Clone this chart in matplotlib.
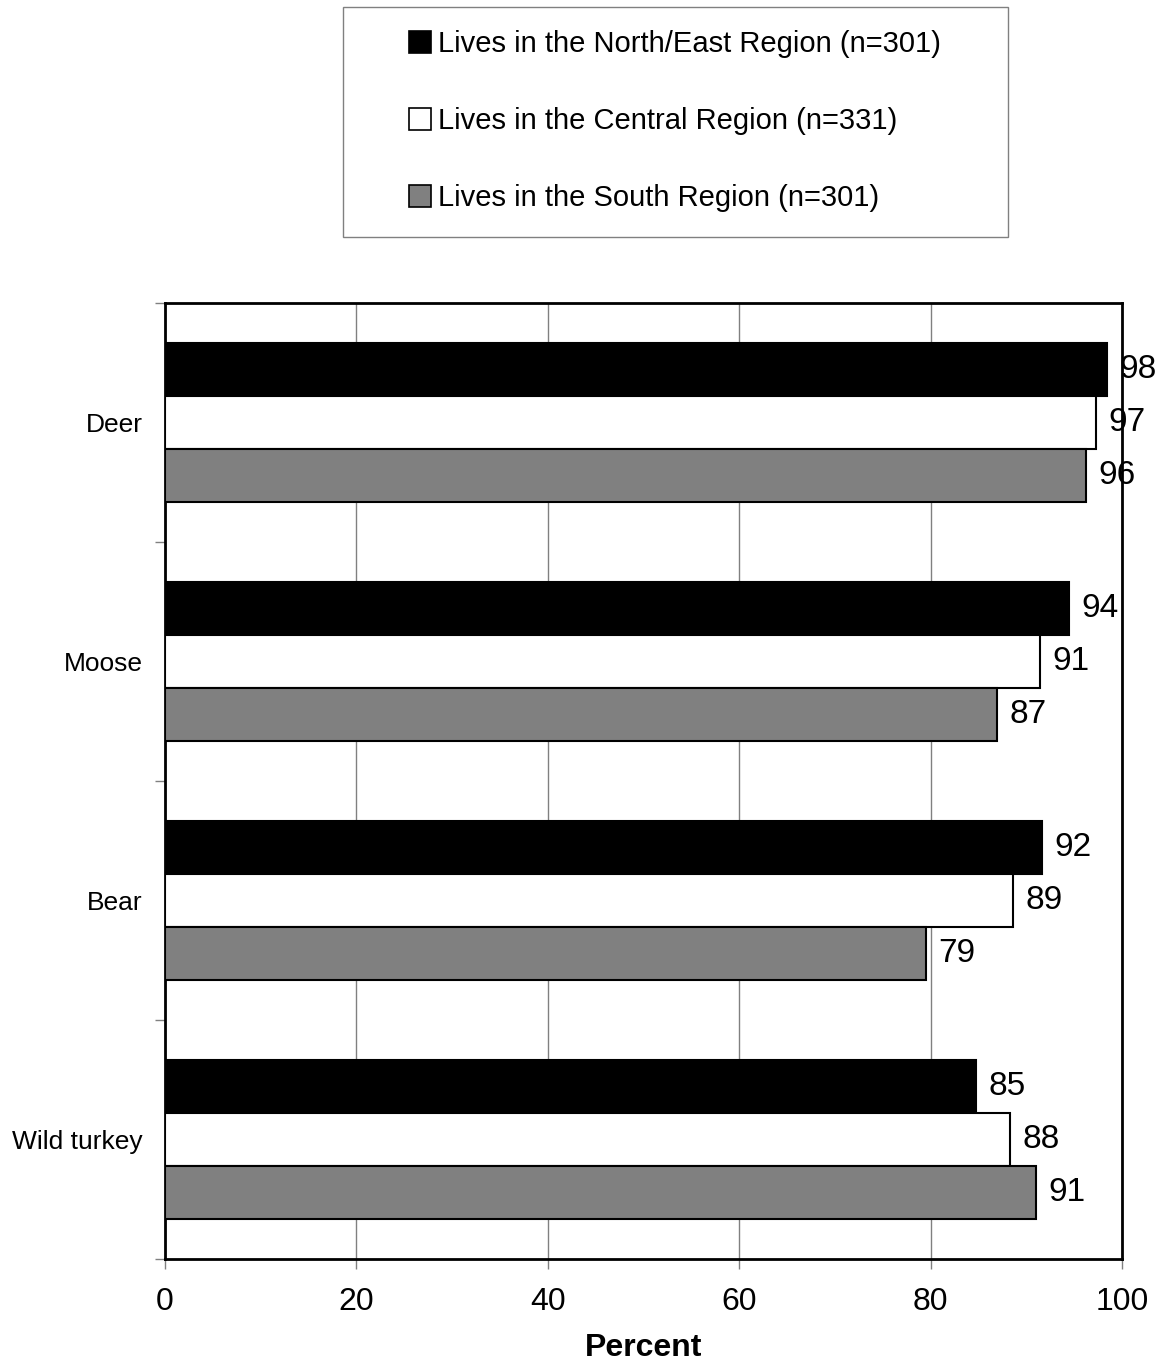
import numpy as np
import matplotlib
matplotlib.use('Agg')
import matplotlib.pyplot as plt
from matplotlib.patches import Patch, Rectangle

plt.rcParams['font.family'] = ['Liberation Sans', 'DejaVu Sans']

# Datos
especies = ['Deer', 'Moose', 'Bear', 'Wild turkey']
series = ['Lives in the North/East Region (n=301)',
          'Lives in the Central Region (n=331)',
          'Lives in the South Region (n=301)']
norte_este = [98.4, 94.5, 91.6, 84.7]
central = [97.3, 91.4, 88.6, 88.3]
sur = [96.2, 86.9, 79.5, 91.0]
etiquetas_norte = [98, 94, 92, 85]
etiquetas_central = [97, 91, 89, 88]
etiquetas_sur = [96, 87, 79, 91]

colores = ['black', 'white', '#808080']
valores = [norte_este, central, sur]
etiquetas = [etiquetas_norte, etiquetas_central, etiquetas_sur]

fig = plt.figure(figsize=(11.63, 13.68), dpi=100)
ax = fig.add_axes([165/1163, 1-1259/1368, (1122-165)/1163, (1259-303)/1368])

y = np.arange(len(especies))
alto = 0.222
for i, (vals, col, labs) in enumerate(zip(valores, colores, etiquetas)):
    pos = y + (i - 1) * alto
    ax.barh(pos, vals, height=alto, color=col, edgecolor='black', linewidth=1.5, zorder=3)
    for p, v, l in zip(pos, vals, labs):
        ax.text(v + 1.3, p, str(l), va='center', ha='left', fontsize=24, zorder=4)

ax.set_xlim(0, 100)
ax.set_ylim(3.5, -0.5)
ax.set_xticks([0, 20, 40, 60, 80, 100])
ax.tick_params(axis='x', labelsize=23, direction='out', length=7, width=1, color='#808080', pad=13)
ax.set_yticks(y)
ax.set_yticklabels(especies, fontsize=19)
ax.tick_params(axis='y', which='major', length=0, pad=16)
ax.set_yticks(np.arange(-0.5, 4, 1), minor=True)
ax.tick_params(axis='y', which='minor', direction='out', length=7, width=1, color='#808080')
ax.grid(axis='x', color='#808080', linewidth=1, zorder=0)
for s in ax.spines.values():
    s.set_linewidth(2)
ax.set_xlabel('Percent', fontsize=23, fontweight='bold', labelpad=12)

# Leyenda con marco fijo
fig.patches.append(Rectangle((343/1163, 1-237/1368), 665/1163, 230/1368,
                             transform=fig.transFigure, facecolor='white',
                             edgecolor='#808080', linewidth=1))
handles = [Patch(facecolor=c, edgecolor='black', linewidth=1.2) for c in colores]
leg = fig.legend(handles, series, loc='center',
                 bbox_to_anchor=(675/1163, 1-121/1368),
                 fontsize=21, frameon=False,
                 handlelength=0.75, handleheight=0.75, handletextpad=0.25,
                 labelspacing=1.68, borderpad=0, borderaxespad=0)

plt.savefig('out.png', dpi=100)
plt.close()
